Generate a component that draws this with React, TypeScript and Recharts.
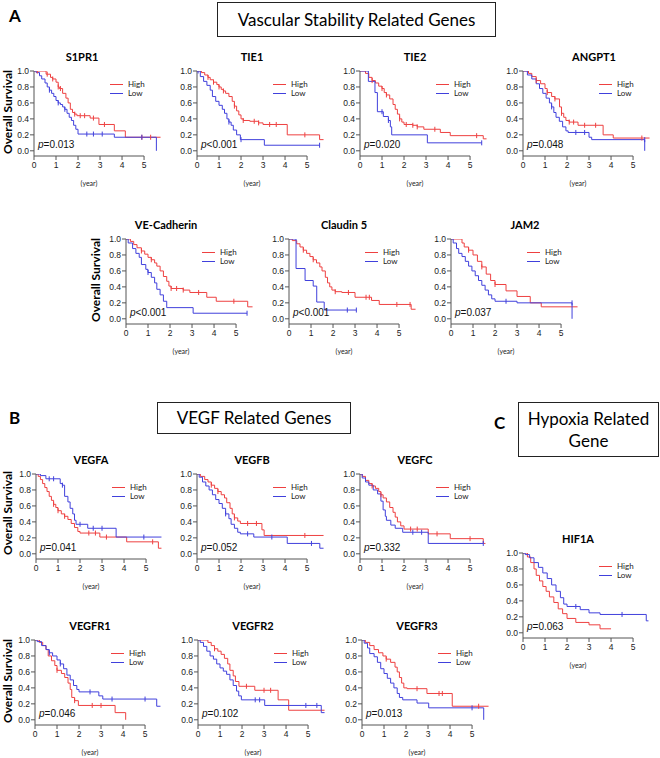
import React from 'react';
import { LineChart, Line, XAxis, YAxis, ReferenceLine } from 'recharts';

// each curve: [time (year), survival, censored?]
type Pt = [number, number, number?];

const xTicks = [0, 1, 2, 3, 4, 5];
const yTicks = [0, 0.2, 0.4, 0.6, 0.8, 1.0];

const s1pr1High: Pt[] = [[0,1],[0.15,1,1],[0.55,0.96],[0.6,0.96,1],[0.75,0.92],[0.85,0.9,1],[1.0,0.86],[1.1,0.8,1],[1.15,0.78],[1.2,0.78,1],[1.3,0.72],[1.45,0.66],[1.55,0.6],[1.65,0.52],[1.75,0.48],[1.85,0.46,1],[1.95,0.44],[2.1,0.44,1],[2.3,0.44,1],[2.55,0.41],[2.7,0.41,1],[2.95,0.33],[3.2,0.33,1],[3.65,0.25],[4.15,0.17],[4.9,0.17,1],[5.3,0.17,1],[5.75,0.17]];
const s1pr1Low: Pt[] = [[0,1],[0.1,0.98],[0.25,0.94],[0.35,0.9],[0.5,0.85],[0.6,0.8],[0.7,0.76,1],[0.8,0.72],[0.9,0.68],[1.0,0.63],[1.1,0.6,1],[1.2,0.58],[1.3,0.55],[1.4,0.52,1],[1.5,0.47],[1.6,0.42],[1.7,0.38],[1.8,0.32],[1.9,0.27],[2.0,0.21],[2.4,0.21,1],[2.7,0.21,1],[3.1,0.21,1],[3.65,0.17],[4.9,0.17,1],[5.56,0.17],[5.56,0]];

const tie1High: Pt[] = [[0,1],[0.2,0.98],[0.35,0.95],[0.5,0.92,1],[0.6,0.89],[0.75,0.86,1],[0.9,0.83],[1.0,0.8,1],[1.1,0.77],[1.2,0.75,1],[1.3,0.72],[1.45,0.68],[1.6,0.62],[1.7,0.56,1],[1.8,0.5],[1.9,0.45],[2.0,0.4],[2.1,0.38,1],[2.4,0.37],[2.6,0.37,1],[2.8,0.35,1],[3.0,0.33],[3.3,0.33,1],[3.6,0.33,1],[4.1,0.2],[4.9,0.2,1],[5.57,0.14],[5.75,0.14]];
const tie1Low: Pt[] = [[0,1],[0.05,1,1],[0.15,0.93],[0.3,0.87],[0.45,0.82],[0.6,0.76],[0.7,0.68],[0.85,0.62],[1.0,0.57],[1.15,0.52],[1.25,0.47],[1.36,0.4],[1.45,0.36,1],[1.55,0.32],[1.65,0.26],[1.8,0.2],[1.97,0.14],[2.0,0.14,1],[3.06,0.07],[5.57,0.07,1]];

const tie2High: Pt[] = [[0,1],[0.25,0.97],[0.4,0.92],[0.55,0.88,1],[0.7,0.85],[0.85,0.81],[1.0,0.78,1],[1.1,0.73],[1.2,0.7,1],[1.35,0.65],[1.5,0.58],[1.6,0.52],[1.7,0.46],[1.8,0.4,1],[1.9,0.36],[2.0,0.33],[2.1,0.33,1],[2.4,0.32,1],[2.6,0.3,1],[2.9,0.27],[3.4,0.27,1],[3.65,0.23],[4.1,0.19],[5.3,0.19,1],[5.6,0.15],[5.75,0.15]];
const tie2Low: Pt[] = [[0,1],[0.38,0.87],[0.68,0.73],[0.79,0.49],[1.0,0.49,1],[1.06,0.43],[1.29,0.38,1],[1.38,0.3],[1.44,0.2],[3.06,0.1],[5.53,0.1,1]];

const angpt1High: Pt[] = [[0,1],[0.25,0.97],[0.4,0.93],[0.6,0.88,1],[0.8,0.84],[1.0,0.78],[1.1,0.73,1],[1.3,0.68],[1.45,0.65,1],[1.66,0.55],[1.75,0.47,1],[1.85,0.42],[1.95,0.38],[2.1,0.36,1],[2.3,0.36,1],[2.5,0.32],[2.8,0.32,1],[3.3,0.32,1],[3.64,0.2],[4.1,0.16],[5.4,0.16,1],[5.75,0.16]];
const angpt1Low: Pt[] = [[0,1],[0.2,0.95],[0.4,0.9],[0.6,0.84],[0.75,0.78],[0.9,0.72],[1.05,0.66],[1.2,0.6],[1.3,0.55,1],[1.4,0.48],[1.5,0.42],[1.65,0.37],[1.8,0.3],[1.95,0.25],[2.05,0.23],[2.4,0.23,1],[2.8,0.23,1],[3.0,0.17],[3.12,0.14],[5.53,0.14,1],[5.53,0]];

const veCadHigh: Pt[] = [[0,1],[0.2,0.97],[0.35,0.93],[0.5,0.89],[0.7,0.85,1],[0.85,0.81],[1.0,0.77],[1.15,0.74,1],[1.3,0.7],[1.4,0.66],[1.55,0.6],[1.7,0.53],[1.85,0.47],[1.95,0.41],[2.05,0.38,1],[2.3,0.38,1],[2.6,0.36,1],[2.9,0.33],[3.3,0.33,1],[3.67,0.27],[4.1,0.22],[4.9,0.22,1],[5.53,0.15],[5.75,0.15]];
const veCadLow: Pt[] = [[0,1],[0.1,0.95],[0.3,0.88],[0.45,0.82],[0.6,0.77],[0.7,0.68],[0.9,0.62],[1.0,0.58,1],[1.15,0.52],[1.3,0.45],[1.4,0.37],[1.55,0.3],[1.7,0.22],[1.85,0.14],[3.05,0.07],[5.5,0.07,1]];

const claudinHigh: Pt[] = [[0,1],[0.15,0.98],[0.35,0.94],[0.5,0.9],[0.65,0.86,1],[0.8,0.82],[0.95,0.78],[1.1,0.74,1],[1.25,0.7],[1.4,0.65],[1.5,0.6],[1.65,0.52],[1.75,0.45],[1.85,0.4],[1.95,0.36],[2.1,0.34,1],[2.4,0.33],[2.7,0.33,1],[3.0,0.27],[3.5,0.27,1],[3.65,0.27,1],[3.75,0.23],[4.1,0.18],[4.9,0.18,1],[5.5,0.18,1],[5.55,0.12],[5.75,0.12]];
const claudinLow: Pt[] = [[0,1],[0.32,0.63],[0.73,0.48],[1.1,0.41],[1.26,0.21],[1.6,0.11],[2.65,0.11,1],[3.06,0.11,1]];

const jam2High: Pt[] = [[0,1],[0.5,0.95],[0.6,0.9],[0.8,0.86,1],[1.0,0.8],[1.2,0.72],[1.4,0.65,1],[1.6,0.56],[1.8,0.48],[2.0,0.43,1],[2.5,0.35],[3.0,0.28],[3.6,0.2],[4.1,0.15],[5.75,0.15]];
const jam2Low: Pt[] = [[0,1],[0.1,0.95],[0.25,0.88],[0.35,0.82],[0.5,0.78],[0.65,0.72],[0.8,0.66],[0.95,0.6],[1.1,0.54],[1.25,0.48],[1.4,0.42],[1.55,0.36],[1.7,0.3],[1.85,0.25],[2.0,0.22],[2.5,0.22,1],[3.0,0.2],[5.5,0.2,1],[5.5,0]];

const vegfaHigh: Pt[] = [[0,1],[0.1,0.97],[0.2,0.93],[0.3,0.88],[0.4,0.83],[0.5,0.78],[0.6,0.72],[0.7,0.67],[0.8,0.62,1],[0.9,0.58],[1.0,0.54,1],[1.15,0.5],[1.3,0.47,1],[1.45,0.43],[1.6,0.38],[1.75,0.33],[1.9,0.28],[2.0,0.26],[2.4,0.26,1],[2.7,0.26,1],[2.9,0.21],[3.2,0.21,1],[4.12,0.15],[5.3,0.15,1],[5.56,0.07],[5.7,0.07]];
const vegfaLow: Pt[] = [[0,1],[0.2,0.98],[0.45,0.94],[0.6,0.94,1],[0.8,0.94,1],[1.1,0.88],[1.2,0.86,1],[1.3,0.72],[1.45,0.65],[1.55,0.57],[1.67,0.5],[1.75,0.42],[1.82,0.37],[2.0,0.37,1],[2.35,0.32],[2.6,0.32,1],[3.0,0.32,1],[3.64,0.21],[4.9,0.21,1],[5.7,0.21]];

const vegfbHigh: Pt[] = [[0,1],[0.15,0.97],[0.35,0.93],[0.5,0.9],[0.65,0.86,1],[0.8,0.82],[0.95,0.78,1],[1.1,0.74],[1.25,0.7],[1.35,0.64],[1.5,0.57],[1.6,0.5],[1.7,0.45,1],[1.85,0.41],[1.97,0.38],[2.3,0.38,1],[2.7,0.38,1],[2.95,0.3],[3.05,0.23],[4.9,0.23,1],[5.75,0.23]];
const vegfbLow: Pt[] = [[0,1],[0.1,0.96],[0.25,0.9],[0.4,0.85],[0.55,0.8],[0.7,0.74],[0.85,0.68],[1.0,0.63],[1.15,0.57],[1.3,0.5,1],[1.45,0.44],[1.55,0.37],[1.7,0.32],[1.85,0.27],[1.97,0.25],[2.3,0.25,1],[2.58,0.21],[3.4,0.21,1],[4.1,0.13],[5.2,0.13,1],[5.58,0.07],[5.75,0.07]];

const vegfcHigh: Pt[] = [[0,1],[0.1,0.97],[0.25,0.92],[0.4,0.88],[0.55,0.85,1],[0.7,0.82],[0.85,0.78],[0.95,0.74,1],[1.05,0.7],[1.2,0.65],[1.35,0.58],[1.5,0.52],[1.6,0.46],[1.7,0.4],[1.85,0.35],[2.0,0.31],[2.3,0.31,1],[2.6,0.31,1],[3.1,0.25],[3.5,0.25,1],[4.1,0.19],[5.0,0.19,1],[5.6,0.13],[5.7,0.13]];
const vegfcLow: Pt[] = [[0,1],[0.1,0.95],[0.25,0.9],[0.4,0.86],[0.6,0.8],[0.8,0.75],[0.95,0.66],[1.05,0.55],[1.15,0.47],[1.2,0.42],[1.4,0.36],[1.6,0.32],[1.94,0.27],[2.4,0.27,1],[2.8,0.27,1],[3.1,0.13],[5.6,0.13,1]];

const hif1aHigh: Pt[] = [[0,1],[0.2,0.95],[0.35,0.88],[0.5,0.8],[0.6,0.72],[0.75,0.65],[0.9,0.58],[1.05,0.52],[1.2,0.45],[1.4,0.38],[1.6,0.3],[1.8,0.24],[2.0,0.18],[2.4,0.13],[3.0,0.1],[3.5,0.05],[4.0,0.05]];
const hif1aLow: Pt[] = [[0,1],[0.1,0.98],[0.3,0.94],[0.5,0.88],[0.7,0.82],[0.9,0.75],[1.1,0.68],[1.3,0.6],[1.5,0.52],[1.7,0.44],[1.85,0.36],[2.0,0.33],[2.4,0.33,1],[2.6,0.29],[3.0,0.25],[3.5,0.23],[4.5,0.23,1],[5.5,0.23],[5.6,0.15],[5.7,0.15]];

const vegfr1High: Pt[] = [[0,1],[0.2,0.97],[0.35,0.93],[0.5,0.88],[0.6,0.8],[0.75,0.74],[0.9,0.68],[1.0,0.62,1],[1.2,0.58],[1.35,0.53],[1.5,0.46],[1.6,0.38],[1.67,0.28],[1.8,0.24,1],[1.97,0.18],[2.6,0.18,1],[3.0,0.18,1],[3.64,0.09],[4.12,0]];
const vegfr1Low: Pt[] = [[0,1],[0.1,0.98],[0.3,0.93],[0.5,0.88],[0.65,0.84,1],[0.8,0.8],[1.0,0.75],[1.15,0.7,1],[1.3,0.64],[1.45,0.56],[1.6,0.5],[1.75,0.43],[1.9,0.38],[2.0,0.35],[2.5,0.35,1],[2.9,0.3],[3.08,0.26],[3.5,0.26,1],[5.0,0.26,1],[5.53,0.17],[5.7,0.17]];

const vegfr2High: Pt[] = [[0,1],[0.45,0.97],[0.6,0.93],[0.75,0.89,1],[0.9,0.86],[1.05,0.82],[1.2,0.77],[1.35,0.7],[1.45,0.62],[1.6,0.55],[1.7,0.48],[1.86,0.42],[2.2,0.42,1],[2.58,0.37],[3.0,0.37,1],[3.3,0.37,1],[3.64,0.25],[4.12,0.12],[5.75,0.12]];
const vegfr2Low: Pt[] = [[0,1],[0.1,0.97],[0.25,0.92],[0.4,0.86],[0.55,0.8],[0.7,0.76],[0.85,0.7],[1.0,0.65],[1.15,0.61],[1.3,0.57],[1.45,0.5],[1.6,0.43],[1.75,0.36],[1.85,0.3],[1.97,0.25],[2.6,0.25,1],[2.8,0.25,1],[3.03,0.18],[4.9,0.18,1],[5.4,0.18,1],[5.6,0.09],[5.75,0.09]];

const vegfr3High: Pt[] = [[0,1],[0.15,0.97],[0.35,0.93],[0.55,0.88],[0.75,0.84],[0.95,0.8],[1.1,0.76,1],[1.3,0.72],[1.5,0.66],[1.6,0.6],[1.7,0.53],[1.8,0.46],[1.9,0.4],[2.05,0.39],[2.5,0.39,1],[2.95,0.33],[3.5,0.33,1],[3.65,0.33,1],[4.1,0.17],[5.3,0.17,1],[5.75,0.17]];
const vegfr3Low: Pt[] = [[0,1],[0.1,0.96],[0.25,0.9],[0.35,0.83],[0.55,0.79],[0.7,0.72],[0.85,0.64],[1.0,0.58],[1.15,0.52],[1.3,0.46],[1.45,0.4],[1.6,0.33],[1.7,0.28],[1.85,0.25],[2.5,0.21],[3.03,0.15],[5.0,0.15,1],[5.53,0.15],[5.53,0]];

const RED = '#ee4040';
const BLUE = '#4040dc';
const TICK_FONT = '"Liberation Sans", Arial, sans-serif';
const LABEL_FONT = 'Lato, "Open Sans", sans-serif';

// plot geometry: 22px per year, 80px per 1.0 of survival
const LEFT = 34;
const TOP = 6;
const PLOT_W = 127;
const PLOT_H = 85;
const X_MAX = 5.77;
const Y_MIN = -0.065;

const toRows = (pts: Pt[]) => pts.map(([t, s, c]) => ({ t, s, c: c ? 1 : 0 }));

const censorDot = (color: string) => (props: any) => {
  const { cx, cy, payload, index } = props;
  if (!payload || !payload.c) return <g key={`d${index}`} />;
  return <line key={`d${index}`} x1={cx} x2={cx} y1={cy - 2.5} y2={cy + 2.5} stroke={color} strokeWidth={1} />;
};

interface PanelProps {
  title: string;
  x0: number;
  y1: number;
  high: Pt[];
  low: Pt[];
  p: string;
  titleDx?: number;
}

function Panel({ title, x0, y1, high, low, p, titleDx = 55 }: PanelProps) {
  const y0 = y1 + 80;
  return (
    <>
      <div style={{ position: 'absolute', left: x0 + titleDx - 60, top: y1 - 21, width: 120, textAlign: 'center', fontFamily: LABEL_FONT, fontWeight: 700, fontSize: 11 }}>
        {title}
      </div>
      <div style={{ position: 'absolute', left: x0 - LEFT, top: y1 - TOP }}>
        <LineChart width={LEFT + PLOT_W + 6} height={TOP + PLOT_H + 20} margin={{ top: TOP, right: 6, bottom: 0, left: 0 }}>
          <XAxis
            dataKey="t"
            type="number"
            domain={[0, X_MAX]}
            ticks={xTicks}
            allowDataOverflow
            axisLine={false}
            tickSize={4}
            tickLine={{ stroke: '#555' }}
            tick={{ fontSize: 8.5, fill: '#222', fontFamily: TICK_FONT }}
            height={20}
          />
          <YAxis
            type="number"
            domain={[Y_MIN, 1]}
            ticks={yTicks}
            allowDataOverflow
            width={LEFT}
            tickSize={4}
            tickMargin={1}
            axisLine={{ stroke: '#555' }}
            tickLine={{ stroke: '#555' }}
            tickFormatter={(v: number) => v.toFixed(1)}
            tick={{ fontSize: 8.5, fill: '#222', fontFamily: TICK_FONT }}
          />
          <ReferenceLine segment={[{ x: 0, y: Y_MIN }, { x: 5, y: Y_MIN }]} stroke="#555" ifOverflow="visible" />
          <Line data={toRows(high)} dataKey="s" type="stepAfter" stroke={RED} strokeWidth={1} dot={censorDot(RED)} activeDot={false} isAnimationActive={false} />
          <Line data={toRows(low)} dataKey="s" type="stepAfter" stroke={BLUE} strokeWidth={1} dot={censorDot(BLUE)} activeDot={false} isAnimationActive={false} />
        </LineChart>
      </div>
      <div style={{ position: 'absolute', left: x0 + 76, top: y1 + 9, fontFamily: LABEL_FONT, fontSize: 8, lineHeight: '9px', color: '#222' }}>
        <div style={{ display: 'flex', alignItems: 'center' }}>
          <span style={{ display: 'inline-block', width: 13, height: 1, background: RED, marginRight: 5 }} />High
        </div>
        <div style={{ display: 'flex', alignItems: 'center' }}>
          <span style={{ display: 'inline-block', width: 13, height: 1, background: BLUE, marginRight: 5 }} />Low
        </div>
      </div>
      <div style={{ position: 'absolute', left: x0 + 4, top: y0 - 12, fontFamily: TICK_FONT, fontSize: 10, color: '#111' }}>
        <i>p</i>{p}
      </div>
      <div style={{ position: 'absolute', left: x0 + 55 - 30, top: y0 + 28, width: 60, textAlign: 'center', fontFamily: LABEL_FONT, fontSize: 7, color: '#222' }}>
        (year)
      </div>
    </>
  );
}

function YLabel({ x, cy }: { x: number; cy: number }) {
  return (
    <div style={{ position: 'absolute', left: x - 60, top: cy - 8, width: 120, height: 16, lineHeight: '16px', textAlign: 'center', transform: 'rotate(-90deg)', fontFamily: LABEL_FONT, fontWeight: 700, fontSize: 12 }}>
      Overall Survival
    </div>
  );
}

function Box({ left, top, width, height, lines }: { left: number; top: number; width: number; height: number; lines: string[] }) {
  return (
    <div style={{ position: 'absolute', left, top, width, height, boxSizing: 'border-box', border: '1px solid #222', display: 'flex', flexDirection: 'column', justifyContent: 'center', alignItems: 'center', fontFamily: LABEL_FONT, fontSize: 17, lineHeight: '22px' }}>
      {lines.map((l) => <div key={l}>{l}</div>)}
    </div>
  );
}

function Letter({ left, top, text }: { left: number; top: number; text: string }) {
  return <div style={{ position: 'absolute', left, top, fontFamily: LABEL_FONT, fontWeight: 700, fontSize: 17 }}>{text}</div>;
}

export default function App() {
  return (
    <div style={{ position: 'absolute', left: 0, top: 0, width: 660, height: 758, background: '#fff', overflow: 'hidden' }}>
      <Letter left={9} top={5} text="A" />
      <Box left={217} top={2} width={279} height={35} lines={['Vascular Stability Related Genes']} />

      <YLabel x={8} cy={112} />
      <Panel title="S1PR1" x0={34} y1={71} high={s1pr1High} low={s1pr1Low} p="=0.013" titleDx={48} />
      <Panel title="TIE1" x0={197} y1={71} high={tie1High} low={tie1Low} p="<0.001" />
      <Panel title="TIE2" x0={360} y1={71} high={tie2High} low={tie2Low} p="=0.020" />
      <Panel title="ANGPT1" x0={523} y1={71} high={angpt1High} low={angpt1Low} p="=0.048" titleDx={71} />

      <YLabel x={96} cy={280} />
      <Panel title="VE-Cadherin" x0={126} y1={239} high={veCadHigh} low={veCadLow} p="<0.001" titleDx={40} />
      <Panel title="Claudin 5" x0={289} y1={239} high={claudinHigh} low={claudinLow} p="<0.001" />
      <Panel title="JAM2" x0={451} y1={239} high={jam2High} low={jam2Low} p="=0.037" titleDx={74} />

      <Letter left={9} top={407} text="B" />
      <Box left={157} top={402} width={194} height={32} lines={['VEGF Related Genes']} />
      <Letter left={494} top={412} text="C" />
      <Box left={518} top={402} width={141} height={55} lines={['Hypoxia Related', 'Gene']} />

      <YLabel x={8} cy={513} />
      <Panel title="VEGFA" x0={36} y1={474} high={vegfaHigh} low={vegfaLow} p="=0.041" />
      <Panel title="VEGFB" x0={197} y1={474} high={vegfbHigh} low={vegfbLow} p="=0.052" />
      <Panel title="VEGFC" x0={360} y1={474} high={vegfcHigh} low={vegfcLow} p="=0.332" />
      <Panel title="HIF1A" x0={523} y1={553} high={hif1aHigh} low={hif1aLow} p="=0.063" />

      <YLabel x={8} cy={681} />
      <Panel title="VEGFR1" x0={35} y1={640} high={vegfr1High} low={vegfr1Low} p="=0.046" />
      <Panel title="VEGFR2" x0={198} y1={640} high={vegfr2High} low={vegfr2Low} p="=0.102" />
      <Panel title="VEGFR3" x0={362} y1={640} high={vegfr3High} low={vegfr3Low} p="=0.013" />
    </div>
  );
}
